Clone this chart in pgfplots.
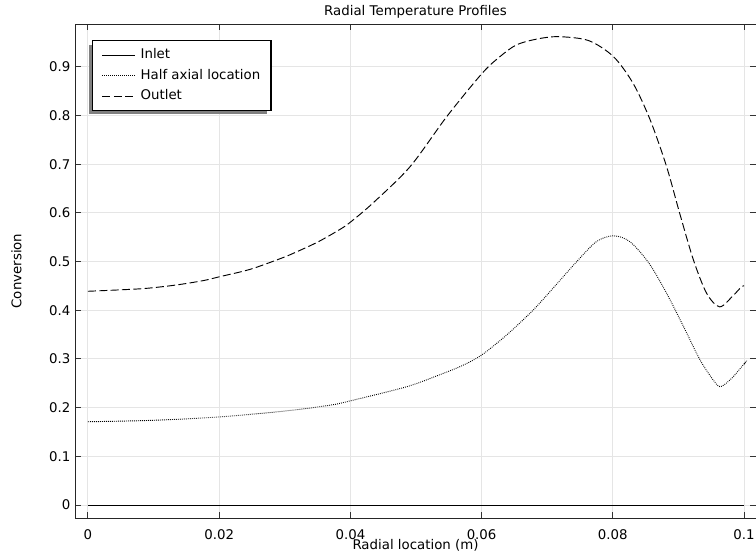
\documentclass[border=0pt]{standalone}
\usepackage{fontspec}
\setmainfont{DejaVu Sans}
\usepackage{pgfplots}
\pgfplotsset{compat=1.18}
\usetikzlibrary{shadows}
\makeatletter
\tikzset{no preactions/.code={\let\tikz@preactions\pgfutil@empty}}
\makeatother
\begin{document}
\begin{tikzpicture}[font=\fontsize{10pt}{12pt}\selectfont]
\begin{axis}[
  scale only axis,
  width=510.75pt, height=370.5pt,
  xmin=-0.00198, xmax=0.10183,
  ymin=-0.0267, ymax=0.988,
  xtick={0,0.02,0.04,0.06,0.08,0.1},
  ytick={0,0.1,0.2,0.3,0.4,0.5,0.6,0.7,0.8,0.9},
  scaled x ticks=false, scaled y ticks=false,
  /pgf/number format/assume math mode=true,
  xticklabel style={/pgf/number format/fixed, /pgf/number format/precision=2, yshift=-5pt},
  yticklabel style={/pgf/number format/fixed, /pgf/number format/precision=1},
  tick align=inside, tick pos=both,
  major tick length=4.5pt,
  every tick/.style={line width=0.75pt, color=black!80},
  grid=major,
  major grid style={line width=0.75pt, color=black!10},
  axis line style={line width=0.75pt, color=black!85},
  title={Radial Temperature Profiles},
  every axis title/.style={at={(axis description cs:0.5,1)}, anchor=south, yshift=0.5pt},
  xlabel={Radial location (m)},
  every axis x label/.style={at={(axis description cs:0.5,0)}, anchor=north, yshift=-12.6pt},
  ylabel={Conversion},
  every axis y label/.style={at={(axis description cs:-0.0714,0.5)}, rotate=90, anchor=south},
  legend cell align=left,
  legend style={at={(axis description cs:0.025,0.9676)}, anchor=north west,
    draw=black, line width=1pt, fill=white,
    drop shadow={shadow xshift=-3pt, shadow yshift=-3pt, fill=black!50, opacity=1},
    inner xsep=7pt, inner ysep=4.75pt, row sep=3.4pt, column sep=2.5pt,
    nodes={inner sep=1pt, text height=7.6pt, text depth=2.4pt}},
  legend image code/.code={\draw[no preactions, line width=0.7pt, #1] (0pt,0pt) -- (24.75pt,0pt);},
]
\addplot[black, line width=0.7pt] coordinates {(0,0) (0.1,0)};
\addlegendentry{Inlet}
\addplot[black, line width=0.7pt, dash pattern=on 0.6pt off 0.9pt, smooth] coordinates {
(0,0.171) (0.0100,0.174) (0.0201,0.181) (0.0300,0.193) (0.0369,0.205) (0.0400,0.214)
(0.0486,0.243) (0.0537,0.268) (0.0570,0.286) (0.0600,0.308) (0.0638,0.349) (0.0679,0.401) (0.0714,0.453)
(0.0745,0.500) (0.0775,0.541) (0.0801,0.553) (0.0826,0.541) (0.0855,0.497) (0.0882,0.435)
(0.0908,0.366) (0.0933,0.298) (0.0953,0.257) (0.0964,0.243) (0.0981,0.260) (0.0999,0.288) (0.1,0.289)};
\addlegendentry{Half axial location}
\addplot[black, line width=0.7pt, dash pattern=on 6pt off 2.5pt, smooth] coordinates {
(0,0.439) (0.005,0.442) (0.0089,0.445) (0.0135,0.452) (0.0176,0.461) (0.0201,0.469)
(0.0247,0.484) (0.0293,0.506) (0.0313,0.517) (0.0350,0.540) (0.0384,0.566) (0.0401,0.582)
(0.0435,0.621) (0.0491,0.695) (0.0547,0.798) (0.0601,0.887) (0.0628,0.921) (0.0653,0.945)
(0.0684,0.957) (0.0717,0.962) (0.0763,0.954) (0.0801,0.921) (0.0831,0.866) (0.0857,0.791)
(0.0882,0.695) (0.0902,0.599) (0.0923,0.503) (0.0943,0.435) (0.0963,0.407) (0.0984,0.431)
(0.0996,0.448) (0.1,0.450)};
\addlegendentry{Outlet}
\coordinate (BL) at (rel axis cs:0,0);
\coordinate (TR) at (rel axis cs:1,1);
\end{axis}
\pgfresetboundingbox
\path[use as bounding box] ([xshift=-56.25pt, yshift=-26.25pt]BL) rectangle ([yshift=18pt]TR);
\end{tikzpicture}
\end{document}
